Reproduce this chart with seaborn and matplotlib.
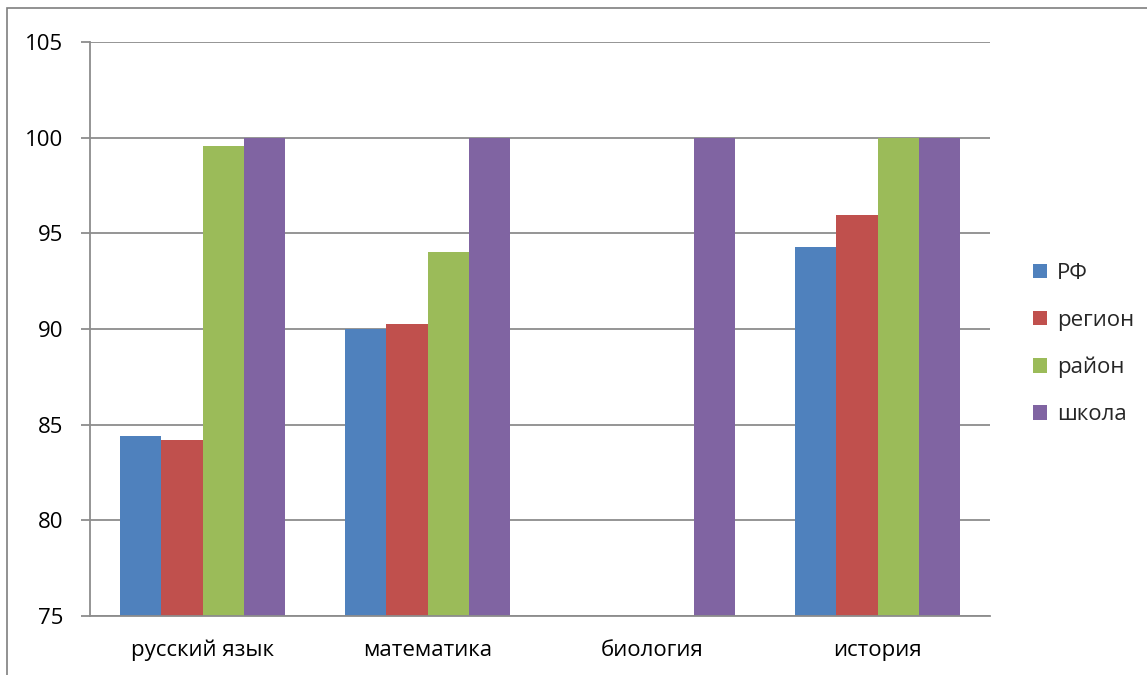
import numpy as np
import pandas as pd
import matplotlib
matplotlib.use("Agg")
import matplotlib.pyplot as plt
import seaborn as sns
from matplotlib.patches import Rectangle

categories = ["русский язык", "математика", "биология", "история"]
series = ["РФ", "регион", "район", "школа"]
rf = [84.43, 90.0, np.nan, 94.31]
region = [84.2, 90.27, np.nan, 95.95]
rayon = [99.55, 94.0, np.nan, 100.0]
shkola = [100.0, 100.0, 100.0, 100.0]
colors = ["#4F81BD", "#C0504D", "#9BBB59", "#8064A2"]
yticks = [75, 80, 85, 90, 95, 100, 105]

rows = []
for name, vals in zip(series, [rf, region, rayon, shkola]):
    for c, v in zip(categories, vals):
        rows.append({"subject": c, "series": name, "value": v})
df = pd.DataFrame(rows)

sns.set_theme(style="white")
plt.rcParams["font.family"] = ["Open Sans", "DejaVu Sans"]

FS = 16
fig = plt.figure(figsize=(11.47, 6.75), dpi=100)
ax = fig.add_axes([90/1147, 1-616/675, 900/1147, 574/675])

sns.barplot(data=df, x="subject", y="value", hue="series", order=categories,
            hue_order=series, palette=colors, width=0.73, ax=ax,
            saturation=1, edgecolor="none", errorbar=None, legend=True)

ax.set_ylim(75, 105)
ax.set_xlim(-0.5, 3.5)
ax.set_yticks(yticks)
ax.set_yticklabels([str(t) for t in yticks], fontsize=FS, color="black")
ax.yaxis.grid(True, color="#8c8c8c", linewidth=1.3)
ax.set_axisbelow(True)
ax.set_xlabel("")
ax.set_ylabel("")

# category labels, with ticks at group boundaries
ax.set_xticks([0, 1, 2, 3])
ax.set_xticklabels(categories, fontsize=FS, color="black")
ax.tick_params(axis="x", which="major", length=0, pad=17)
ax.set_xticks([-0.5, 0.5, 1.5, 2.5, 3.5], minor=True)
ax.tick_params(axis="x", which="minor", length=6.5, width=1.3, color="#8c8c8c", direction="out")
ax.tick_params(axis="y", length=6.5, width=1.3, color="#8c8c8c", direction="out", pad=13, left=True)

for s in ["top", "right"]:
    ax.spines[s].set_visible(False)
for s in ["left", "bottom"]:
    ax.spines[s].set_color("#8c8c8c")
    ax.spines[s].set_linewidth(1.3)

handles, labels = ax.get_legend_handles_labels()
ax.legend(handles, labels, loc="center left", bbox_to_anchor=(1.026, 0.474),
          frameon=False, fontsize=FS, handlelength=0.62, handleheight=0.62,
          handletextpad=0.45, labelspacing=1.17)

fig.patches.append(Rectangle((7/1147, -0.1), 1.2, 1.1 - 8/675,
                             transform=fig.transFigure, fill=False,
                             edgecolor="#7f7f7f", linewidth=1.2, zorder=10))

fig.savefig("out.png", dpi=100)
